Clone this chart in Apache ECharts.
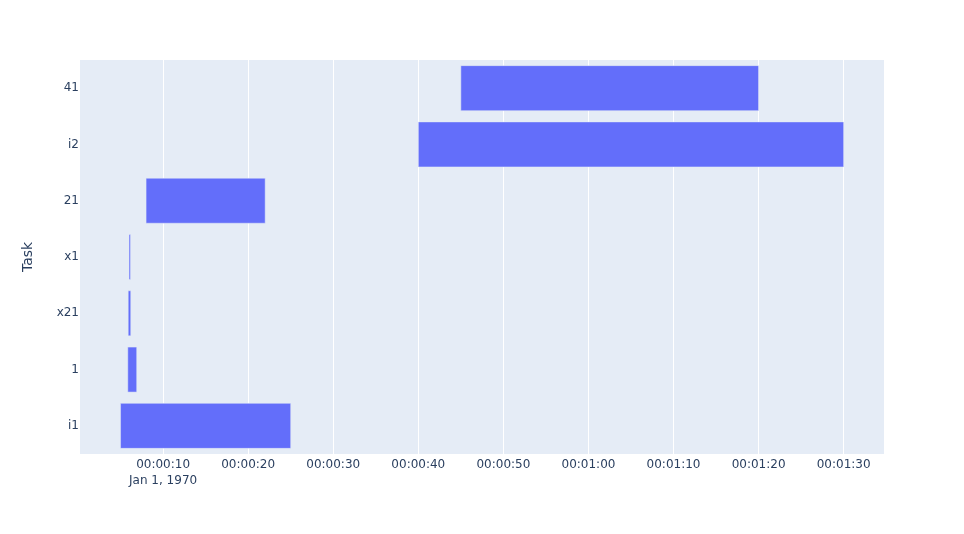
<!DOCTYPE html>
<html>
<head>
<meta charset="utf-8">
<script src="https://cdn.jsdelivr.net/npm/echarts@6/dist/echarts.min.js"></script>
<style>html,body{margin:0;padding:0;background:#fff}#c{width:964px;height:534px}</style>
</head>
<body>
<div id="c"></div>
<script>
// Tasks, bottom to top
const tasks = ['i1', '1', 'x21', 'x1', '21', 'i2', '41'];
// start and finish times, in seconds after 1970-01-01 00:00:00
const starts = [5, 5.85, 5.9, 6.0, 8, 40, 45];
const finishes = [25, 6.9, 6.2, 6.17, 22, 90, 80];
// x tick values (seconds) and labels
const tickValues = [10, 20, 30, 40, 50, 60, 70, 80, 90];
const tickLabels = ['00:00:10', '00:00:20', '00:00:30', '00:00:40', '00:00:50', '00:01:00', '00:01:10', '00:01:20', '00:01:30'];
const firstTickDate = 'Jan 1, 1970';
const xRange = [0.233, 94.74];

const font = '"DejaVu Sans", verdana, arial, sans-serif';
const txt = '#2a3f5f';

const data = tasks.map((t, i) => [starts[i], finishes[i], i]);

const chart = echarts.init(document.getElementById('c'));
chart.setOption({
  animation: false,
  backgroundColor: '#fff',
  grid: { left: 80, right: 80, top: 60, bottom: 80, show: true, backgroundColor: '#E5ECF6', borderWidth: 0 },
  xAxis: {
    type: 'value',
    min: xRange[0],
    max: xRange[1],
    axisLine: { show: false },
    axisTick: { show: false, customValues: tickValues },
    splitLine: { show: true, lineStyle: { color: '#fff', width: 1 } },
    axisLabel: {
      customValues: tickValues,
      color: txt, fontFamily: font, fontSize: 12, margin: 3, lineHeight: 16,
      formatter: function (v) {
        const i = tickValues.indexOf(Math.round(v));
        const s = i >= 0 ? tickLabels[i] : '';
        return i === 0 ? s + '\n' + firstTickDate : s;
      }
    }
  },
  yAxis: {
    type: 'category',
    data: tasks,
    name: 'Task',
    nameLocation: 'middle',
    nameGap: 45,
    nameTextStyle: { color: txt, fontFamily: font, fontSize: 14 },
    axisLine: { show: false },
    axisTick: { show: false },
    splitLine: { show: false },
    axisLabel: { color: txt, fontFamily: font, fontSize: 12, margin: 1 }
  },
  series: [{
    type: 'custom',
    encode: { x: [0, 1], y: 2 },
    data: data,
    renderItem: function (params, api) {
      const p0 = api.coord([api.value(0), api.value(2)]);
      const p1 = api.coord([api.value(1), api.value(2)]);
      const h = api.size([0, 1])[1] * 0.8;
      return {
        type: 'rect',
        shape: { x: p0[0], y: p0[1] - h / 2, width: p1[0] - p0[0], height: h },
        style: { fill: '#636efa', stroke: '#E5ECF6', lineWidth: 0.5 }
      };
    }
  }]
});
</script>
</body>
</html>
